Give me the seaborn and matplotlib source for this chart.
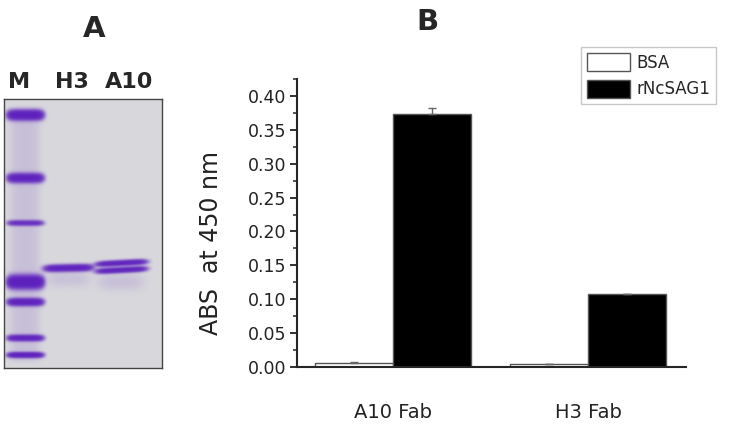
import numpy as np
import pandas as pd
import matplotlib
matplotlib.use("Agg")
import matplotlib.pyplot as plt
from matplotlib.ticker import MultipleLocator, FormatStrFormatter
import seaborn as sns

# ELISA data (panel B)
antibodies = ["A10 Fab", "A10 Fab", "H3 Fab", "H3 Fab"]
antigens = ["BSA", "rNcSAG1", "BSA", "rNcSAG1"]
absorbance = [0.006, 0.373, 0.004, 0.107]
abs_sd = [0.001, 0.009, 0.0005, 0.001]

group_order = ["A10 Fab", "H3 Fab"]
antigen_order = ["BSA", "rNcSAG1"]

# SDS-PAGE gel (panel A), gel pixel units: x across, y down
lane_names = ["M", "H3", "A10"]
marker_y = [16, 79, 124, 183, 203, 239, 256]
marker_sigma = [3.0, 2.8, 1.7, 3.9, 2.3, 1.9, 1.7]
marker_strength = [2.6, 2.2, 1.4, 3.0, 2.2, 2.0, 2.2]
h3_y = [169]
a10_y = [164, 171]

sns.set_style("ticks")
plt.rcParams["font.family"] = ["DejaVu Sans"]

fig = plt.figure(figsize=(7.38, 4.26), dpi=100)

# ---------------- panel A: gel ----------------
GEL_W, GEL_H = 158, 269
gax = fig.add_axes([4 / 738, 1 - 368 / 426, GEL_W / 738, GEL_H / 426])

res = 3
xs = (np.arange(GEL_W * res) + 0.5) / res
ys = (np.arange(GEL_H * res) + 0.5) / res
X, Y = np.meshgrid(xs, ys)


def band(y0, sigma, strength, left, right, tilt=0.0):
    xc = (left + right) / 2
    hw = (right - left) / 2
    centre = y0 + tilt * (X - xc) / (right - left)
    across = np.exp(-np.abs((X - xc) / hw) ** 6)
    return strength * across * np.exp(-0.5 * ((Y - centre) / sigma) ** 2)


def smear(left, right, top, bottom, level):
    xc = (left + right) / 2
    hw = (right - left) / 2
    across = np.exp(-np.abs((X - xc) / hw) ** 4)
    down = 0.5 * (np.tanh((Y - top) / 3) - np.tanh((Y - bottom) / 3))
    return level * across * down


density = np.zeros_like(X)
# marker lane
for yy, sg, st in zip(marker_y, marker_sigma, marker_strength):
    density += band(yy, sg, st, 4, 39)
density += smear(6, 36, 10, 262, 0.09)
# H3 lane
for yy in h3_y:
    density += band(yy, 2.1, 2.2, 41, 88, tilt=-1.0)
density += 0.08 * np.exp(-np.abs((X - 64) / 22) ** 4) * np.exp(-0.5 * ((Y - 180) / 6) ** 2)
# A10 lane
for yy in a10_y:
    density += band(yy, 1.7, 2.0, 93, 142, tilt=-2.5)
density += 0.09 * np.exp(-np.abs((X - 117) / 23) ** 4) * np.exp(-0.5 * ((Y - 183) / 6) ** 2)

alpha = (1 - np.exp(-1.6 * density))[..., None]
bg = np.array([0.85, 0.85, 0.865])
ink = np.array([0.36, 0.12, 0.74])
img = bg * (1 - alpha) + ink * alpha
gax.imshow(img, extent=(0, GEL_W, GEL_H, 0), aspect="auto", interpolation="bilinear")
gax.set_xlim(0, GEL_W)
gax.set_ylim(GEL_H, 0)
gax.set_xticks([])
gax.set_yticks([])
for sp in gax.spines.values():
    sp.set_color("#444444")
    sp.set_linewidth(1.0)

label_x = [15, 68, 125]
for name, lx in zip(lane_names, label_x):
    gax.text(lx, -17, name, ha="center", va="center", fontsize=16,
             fontweight="bold", clip_on=False)

fig.text(94 / 738, 1 - 29 / 426, "A", ha="center", va="center",
         fontsize=21, fontweight="bold")

# ---------------- panel B: ELISA bars ----------------
ax = fig.add_axes([297 / 738, 1 - 367 / 426, 389 / 738, 288 / 426])
df = pd.DataFrame({"antibody": antibodies, "antigen": antigens, "abs": absorbance})

sns.barplot(data=df, x="antibody", y="abs", hue="antigen",
            order=group_order, hue_order=antigen_order,
            palette={"BSA": "white", "rNcSAG1": "black"},
            edgecolor="#555555", linewidth=1.0, width=0.8, ax=ax)

sd_lookup = {(a, g): s for a, g, s in zip(antibodies, antigens, abs_sd)}
for cont, ag in zip(ax.containers, antigen_order):
    for bar, ab in zip(cont, group_order):
        xc = bar.get_x() + bar.get_width() / 2
        h = bar.get_height()
        ax.errorbar(xc, h, yerr=[[0], [sd_lookup[(ab, ag)]]], fmt="none",
                    ecolor="#666666", elinewidth=1.0, capsize=3, capthick=1.0)

ax.set_xlim(-0.49, 1.5)
ax.set_ylim(0, 0.425)
ax.yaxis.set_major_locator(MultipleLocator(0.05))
ax.yaxis.set_minor_locator(MultipleLocator(0.025))
ax.yaxis.set_major_formatter(FormatStrFormatter("%.2f"))
ax.tick_params(axis="y", which="major", direction="out", length=5, width=1.3,
               labelsize=12.5, pad=3, colors="#222222")
ax.tick_params(axis="y", which="minor", direction="out", length=3, width=1.1)
ax.tick_params(axis="x", length=0, labelsize=14, pad=26)
for lbl in ax.get_xticklabels():
    lbl.set_color("#222222")

sns.despine(ax=ax)
ax.spines["left"].set_linewidth(1.5)
ax.spines["bottom"].set_linewidth(1.5)

ax.set_xlabel("")
ax.set_ylabel("ABS  at 450 nm", fontsize=17, color="#222222")
ax.yaxis.set_label_coords(-0.19, 0.43)

handles, labels = ax.get_legend_handles_labels()
ax.legend(handles, labels, loc="upper left", bbox_to_anchor=(581 / 738, 1 - 47 / 426),
          bbox_transform=fig.transFigure, frameon=True, fancybox=False,
          edgecolor="#bbbbbb", fontsize=12, handlelength=2.6, handleheight=1.3,
          handletextpad=0.35, labelspacing=0.5, borderpad=0.35, borderaxespad=0)

fig.text(427 / 738, 1 - 22 / 426, "B", ha="center", va="center",
         fontsize=21, fontweight="bold")

fig.savefig("out.png", dpi=100)
